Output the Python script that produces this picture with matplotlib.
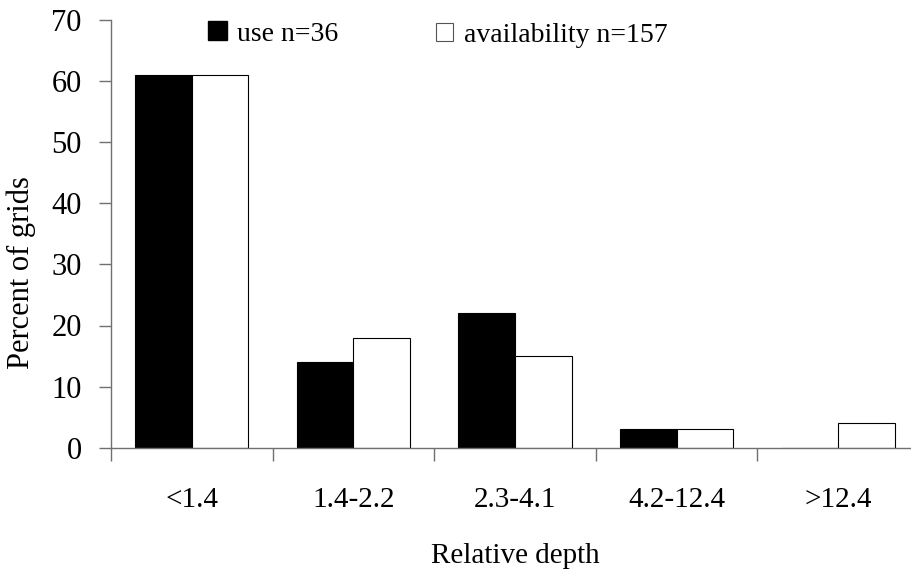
import matplotlib
matplotlib.use("Agg")
import matplotlib.pyplot as plt
from matplotlib.patches import Patch
import numpy as np

categories = ["<1.4", "1.4-2.2", "2.3-4.1", "4.2-12.4", ">12.4"]
use_vals = [61, 14, 22, 3, 0]
avail_vals = [61, 18, 15, 3, 4]
legend_labels = ["use n=36", "availability n=157"]
yticks = [0, 10, 20, 30, 40, 50, 60, 70]

plt.rcParams['font.family'] = ['Liberation Serif', 'DejaVu Serif']

fig = plt.figure(figsize=(9.12, 5.75), dpi=100)
ax = fig.add_axes([111/912, 1 - 447.7/575, (919-111)/912, (447.7-20)/575])

x = np.arange(len(categories))
w = 0.35
ax.bar(x - w/2, use_vals, w, color='black', edgecolor='black', linewidth=0.8)
ax.bar(x + w/2, avail_vals, w, color='white', edgecolor='black', linewidth=0.8)

ax.set_xlim(-0.5, 4.5)
ax.set_ylim(0, 70)
ax.set_yticks(yticks)
ax.tick_params(axis='y', labelsize=22, length=9, width=1, color='#707070', pad=12)

ax.set_xticks(np.arange(-0.5, 5.0, 1.0))
ax.set_xticklabels([])
ax.tick_params(axis='x', which='major', length=9, width=1, color='#707070')
ax.set_xticks(x, minor=True)
ax.set_xticklabels(categories, minor=True)
ax.tick_params(axis='x', which='minor', length=0, labelsize=21, pad=28)

for s in ['top', 'right']:
    ax.spines[s].set_visible(False)
for s in ['left', 'bottom']:
    ax.spines[s].set_color('#707070')
    ax.spines[s].set_linewidth(1)

ax.set_ylabel("Percent of grids", fontsize=22)
ax.yaxis.set_label_coords((36 - 111) / 808, (447.7 - 273) / 427.7)
ax.set_xlabel("Relative depth", fontsize=21, labelpad=22)

h_use = Patch(facecolor='black', edgecolor='black')
h_av = Patch(facecolor='white', edgecolor='#555555', linewidth=0.8)
fig.legend([h_use], [legend_labels[0]], loc='center left', bbox_to_anchor=(208/912, 1 - 34/575),
           frameon=False, fontsize=20, handlelength=0.68, handleheight=0.68,
           handletextpad=0.36, borderaxespad=0, borderpad=0)
fig.legend([h_av], [legend_labels[1]], loc='center left', bbox_to_anchor=(436/912, 1 - 35/575),
           frameon=False, fontsize=20, handlelength=0.6, handleheight=0.6,
           handletextpad=0.4, borderaxespad=0, borderpad=0)

fig.savefig("out.png", dpi=100)
